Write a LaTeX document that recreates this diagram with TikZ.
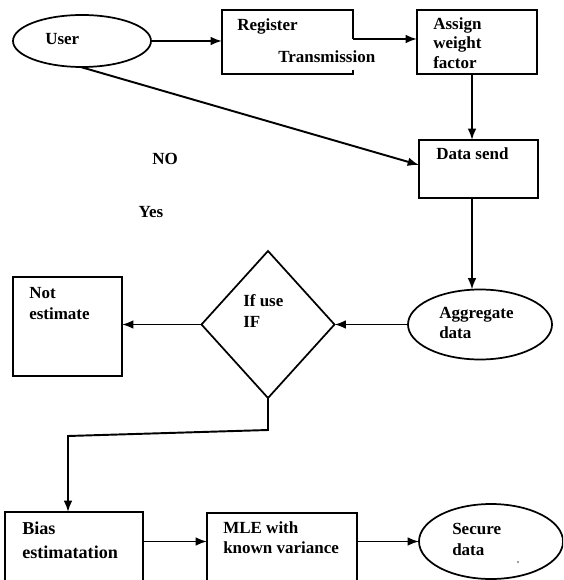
\documentclass[tikz,border=0pt]{standalone}
\usepackage{fontspec}
\setmainfont{Liberation Serif}
\usetikzlibrary{shapes.geometric,arrows.meta}
\newcommand\pxl{0.75pt}
\begin{document}
\begin{tikzpicture}[x=0.75pt,y=-0.75pt,
  line/.style={line width=1.45pt},
  arr/.style={line width=1.45pt,-{Latex[length=8.5pt,width=6.5pt]}},
  box/.style={rectangle,draw,line width=1.45pt,inner sep=0pt,outer sep=0pt},
  oval/.style={ellipse,draw,line width=1.3pt,inner sep=0pt,outer sep=0pt},
  lbl/.style={font=\fontsize{12.75}{15}\selectfont\bfseries,inner sep=0pt,anchor=base west},
  lblb/.style={lbl,font=\fontsize{13.6}{16}\selectfont\bfseries}]
\useasboundingbox (0,0) rectangle (563,580);
\clip (0,0) rectangle (563,580);
\fill[white] (0,0) rectangle (563,580);
% shapes
\node[oval,minimum width=138*\pxl,minimum height=52*\pxl] (user) at (82,41) {};
\node[rectangle,inner sep=0pt,outer sep=0pt,minimum width=131*\pxl,minimum height=64*\pxl] (reg) at (287.5,42) {};
\node[box,minimum width=120*\pxl,minimum height=64*\pxl] (asg) at (477,42) {};
\node[box,minimum width=119*\pxl,minimum height=58*\pxl] (ds) at (478.5,169) {};
\node[oval,minimum width=144*\pxl,minimum height=70*\pxl] (agg) at (480,324.5) {};
\node[diamond,draw,line width=1.3pt,inner sep=0pt,outer sep=0pt,minimum width=133*\pxl,minimum height=147*\pxl] (dia) at (268,324.5) {};
\node[box,minimum width=109*\pxl,minimum height=99*\pxl] (ne) at (67.5,326.5) {};
\node[box,minimum width=138*\pxl,minimum height=100*\pxl] (bias) at (74,562) {};
\node[box,minimum width=150*\pxl,minimum height=100*\pxl] (mle) at (282,563) {};
\node[oval,minimum width=144*\pxl,minimum height=75*\pxl] (sec) at (491,541.5) {};
\node[circle,fill=gray,inner sep=0.6pt] (dot) at (518,562) {};
% register box outline with open lower right edge
\coordinate (rE) at (353,39);
\draw[line] (rE) -- (reg.north east) -- (reg.north west) -- (reg.south west) -- (reg.south east) -- ++(0,-4);
% connectors
\coordinate (cx) at (472,0);
\coordinate (k1) at (268,430);
\coordinate (k2) at (68,436);
\coordinate (ry) at (0,541.5);
\draw[arr] (user.east) -- (reg.west |- user.east);
\draw[arr] (rE) -- (asg.west |- rE);
\draw[arr] (asg.south -| cx) -- (ds.north -| cx);
\draw[arr] (user.-93) -- ([yshift=3pt]ds.west);
\draw[arr] (ds.south -| cx) -- (agg.north -| cx);
\draw[arr] (agg.west) -- (dia.east);
\draw[arr] (dia.west) -- (ne.east |- dia.west);
\draw[arr] (dia.south) -- (k1) -- (k2) -- (k2 |- bias.north);
\draw[arr] (bias.east |- ry) -- (mle.west |- ry);
\draw[arr] (mle.east |- ry) -- (sec.west);
% labels
\node[lbl] (tUser) at (45,45) {User};
\node[lbl] (tReg) at (237,31) {Register};
\node[lbl] (tTrans) at (278,63) {Transmission};
\node[lbl] (tAs1) at (433,30) {Assign};
\node[lbl] (tAs2) at (433,48.5) {weight};
\node[lbl] (tAs3) at (433,69) {factor};
\node[lbl] (tDs) at (436,160) {Data send};
\node[lbl,anchor=center] (tNo) at (165,159) {NO};
\node[lbl,anchor=center] (tYes) at (151,212) {Yes};
\node[lbl] (tAg1) at (439,318) {Aggregate};
\node[lbl] (tAg2) at (439,338) {data};
\node[lbl] (tIf1) at (243,306) {If use};
\node[lbl] (tIf2) at (243,327) {IF};
\node[lbl] (tNe1) at (29,298) {Not};
\node[lbl] (tNe2) at (29,319) {estimate};
\node[lblb] (tB1) at (22,534) {Bias};
\node[lblb] (tB2) at (22,558) {estimatation};
\node[lbl] (tM1) at (223,533) {MLE with};
\node[lbl] (tM2) at (223,553) {known variance};
\node[lbl] (tS1) at (452,534) {Secure};
\node[lbl] (tS2) at (452,555) {data};
\end{tikzpicture}
\end{document}
